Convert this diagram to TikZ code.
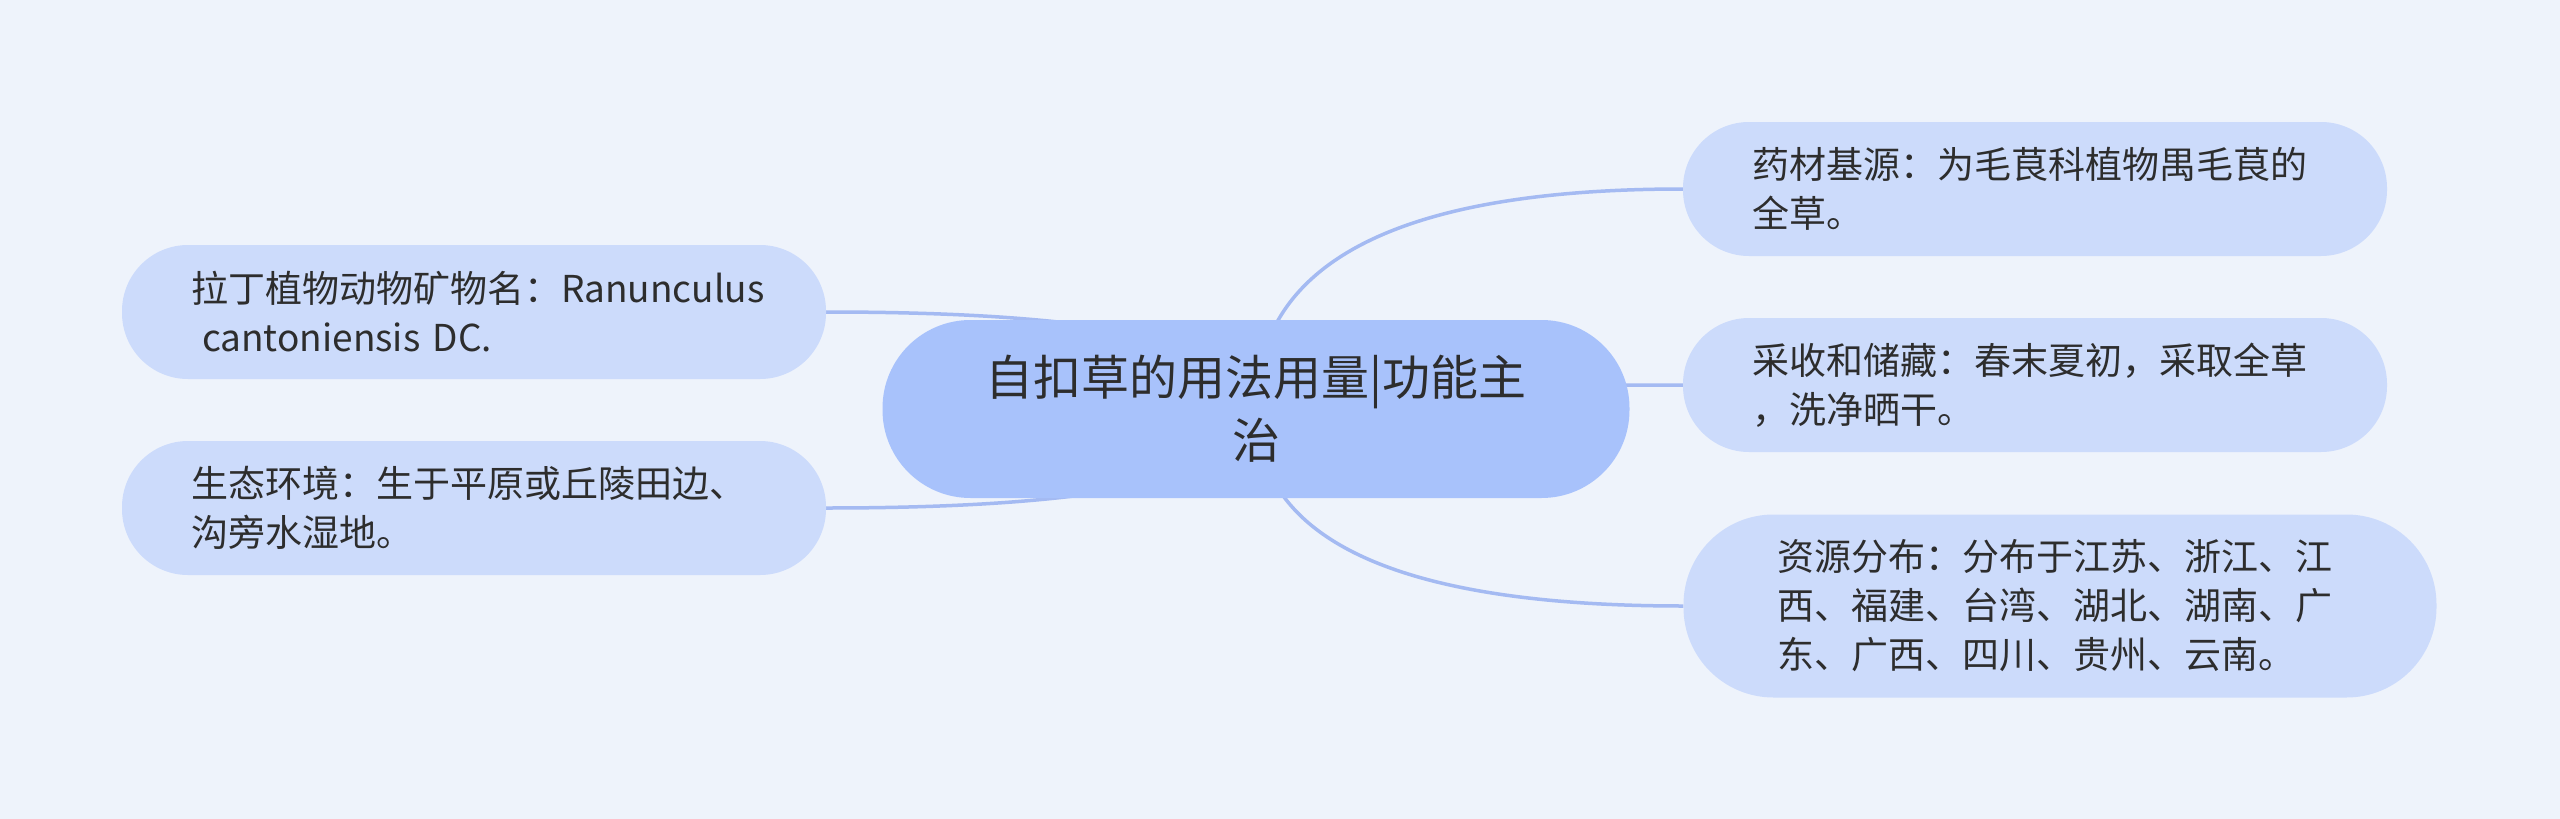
\documentclass[tikz,border=0pt]{standalone}
\usepackage{fontspec}
\setmainfont{Noto Sans CJK SC}
\usetikzlibrary{calc}
\definecolor{bgblue}{RGB}{238, 243, 251}
\definecolor{rootblue}{RGB}{168, 194, 251}
\definecolor{leafblue}{RGB}{204, 219, 251}
\definecolor{linkblue}{RGB}{164, 186, 242}
\definecolor{textgray}{RGB}{45, 45, 45}
\pgfdeclarelayer{bg}
\pgfdeclarelayer{links}
\pgfsetlayers{bg,links,main}

\begin{document}
\begin{tikzpicture}[
    x=1pt, y=-1pt,
    root/.style={rectangle, rounded corners=88pt, minimum width=747pt, minimum height=178pt, fill=rootblue, text=textgray, align=center, font=\fontsize{48}{63}\selectfont},
    leaf/.style={rectangle, rounded corners=66pt, minimum width=704pt, minimum height=134pt, fill=leafblue, text=textgray, text width=566pt, align=left, font=\fontsize{37}{49}\selectfont},
    link/.style={draw=linkblue, line width=3.5pt}
]

% Background
\begin{pgfonlayer}{bg}
\fill[bgblue] (0,0) rectangle (2560,819);
\end{pgfonlayer}

% Root
\node[root] (root) at (1256,409) {自扣草的用法用量|功能主\\治};

% Left leaves
\node[leaf] (latin) at (474,312) {拉丁植物动物矿物名：Ranunculus\\\hspace*{0.3em}cantoniensis DC.};
\node[leaf] (habitat) at (474,508) {生态环境：生于平原或丘陵田边、\\沟旁水湿地。};

% Right leaves
\node[leaf] (source) at (2035,189) {药材基源：为毛茛科植物禺毛茛的\\全草。};
\node[leaf] (harvest) at (2035,385) {采收和储藏：春末夏初，采取全草\\，洗净晒干。};
\node[leaf, minimum width=753pt, minimum height=183pt, rounded corners=90pt] (distrib) at (2060,606) {资源分布：分布于江苏、浙江、江\\西、福建、台湾、湖北、湖南、广\\东、广西、四川、贵州、云南。};

% Links (behind the nodes)
\begin{pgfonlayer}{links}
\foreach \leaf/\side in {latin/east, habitat/east, source/west, harvest/west, distrib/west}
    \draw[link] (root.center) .. controls ($(root.center)!0.667!(root.center |- \leaf.\side)$) and ($(\leaf.\side)!0.667!(root.center |- \leaf.\side)$) .. (\leaf.\side);
\end{pgfonlayer}

\end{tikzpicture}
\end{document}
